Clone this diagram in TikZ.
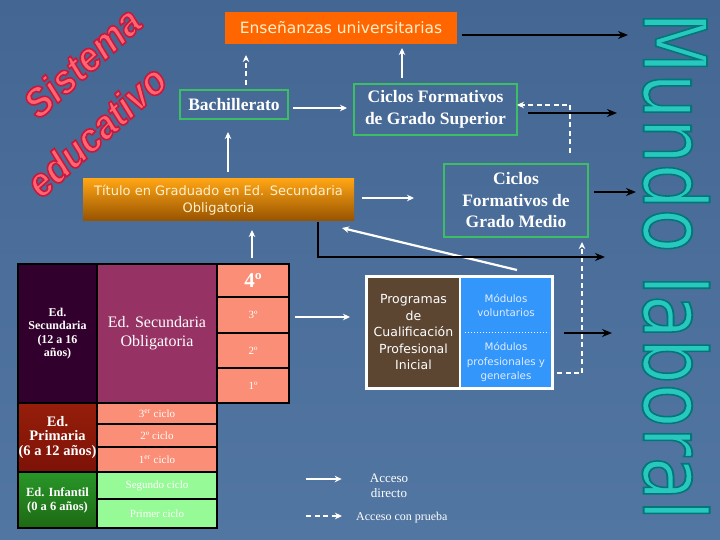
\documentclass[tikz,border=0pt]{standalone}
\usepackage{fontspec}
\setmainfont{Liberation Serif}
\newfontfamily\tahoma{DejaVu Sans}
\newfontfamily\arialf{Liberation Sans}
\usetikzlibrary{calc,arrows.meta,positioning}
% outlined text: stroke colour, stroke width, text
\newcommand\outl[3]{\special{pdf:literal direct #1 RG #2 w 2 Tr}#3\special{pdf:literal direct 0 Tr}}

\definecolor{bgtop}{RGB}{68,102,146}
\definecolor{bgbot}{RGB}{82,118,162}
\definecolor{ensorange}{RGB}{255,102,0}
\definecolor{cream}{RGB}{255,240,205}
\definecolor{boxgreen}{RGB}{60,190,100}
\definecolor{tittop}{RGB}{255,165,20}
\definecolor{titbot}{RGB}{150,82,0}
\definecolor{purpdark}{RGB}{50,0,45}
\definecolor{purplight}{RGB}{105,22,98}
\definecolor{secmag}{RGB}{150,50,100}
\definecolor{salmon}{RGB}{250,142,118}
\definecolor{pritop}{RGB}{150,30,10}
\definecolor{primid}{RGB}{250,62,20}
\definecolor{pribot}{RGB}{125,18,8}
\definecolor{inftop}{RGB}{40,150,40}
\definecolor{infmid}{RGB}{100,230,60}
\definecolor{infbot}{RGB}{30,105,20}
\definecolor{lightgreen}{RGB}{150,250,150}
\definecolor{wood}{RGB}{92,70,50}
\definecolor{modblue}{RGB}{50,150,250}
\definecolor{modtext}{RGB}{225,235,255}
\definecolor{sisfill}{RGB}{255,100,112}
\definecolor{mlfill}{RGB}{40,200,190}

\begin{document}
\begin{tikzpicture}[x=1pt,y=1pt,
	greenbox/.style={draw=boxgreen, line width=1.3pt, text=white, align=center,
		font=\bfseries\fontsize{17.5}{21.5}\selectfont, inner sep=0pt, outer sep=0pt},
	cell/.style={draw=black, line width=1.6pt, inner sep=0pt, outer sep=0pt,
		anchor=north west, align=center, text=white},
	smallcell/.style={cell, fill=salmon, font=\fontsize{11}{11}\selectfont},
	wline/.style={draw=white, line width=2.2pt, -{Stealth[length=7pt,width=6.5pt]}},
	wdash/.style={wline, dash pattern=on 5pt off 3.5pt},
	bline/.style={draw=black, line width=2pt, -{Stealth[length=10pt,width=8pt]}},
	wordart/.style={rotate=42, text=sisfill, inner sep=0pt, font=\arialf\bfseries\itshape\fontsize{37}{37}\selectfont}]
			%%%%% START %%%%%
			
			\fill[top color=bgtop, bottom color=bgbot] (0,0) rectangle (720,-540);
			\useasboundingbox (0,0) rectangle (720,-540);
			
			\node[wordart] (sis) at (82,-62) {\scalebox{1}[1.1]{\outl{0.78 0.1 0.24}{1.5}{Sistema}}};
			\node[wordart] (edu) at (96,-131) {\scalebox{1}[1.1]{\outl{0.78 0.1 0.24}{1.5}{educativo}}};
			
			\node[rotate=-90, text=mlfill, inner sep=0pt, font=\tahoma\fontsize{60}{60}\selectfont] (mundo) at (676,-266) {\resizebox{508pt}{66pt}{\outl{0 0.47 0.47}{1.3}{Mundo laboral}}};
			
			% upper part
			\node[fill=ensorange, text=cream, font=\tahoma\fontsize{15.5}{18}\selectfont, minimum width=232, minimum height=32, inner sep=0pt, outer sep=0pt] (ens) at (341,-28) {Enseñanzas universitarias};
			\node[greenbox, minimum width=108, minimum height=29] (bach) at (234,-104.5) {Bachillerato};
			\node[greenbox, minimum width=163, minimum height=51] (sup) at (435.5,-109.5) {Ciclos Formativos\\de Grado Superior};
			\node[top color=tittop, bottom color=titbot, text=cream, font=\tahoma\fontsize{13}{17}\selectfont, align=center, minimum width=271, minimum height=42, inner sep=0pt, outer sep=0pt] (tit) at (218.5,-200) {Título en Graduado en Ed. Secundaria\\Obligatoria};
			\node[greenbox, minimum width=144, minimum height=73] (med) at (516,-200.5) {Ciclos\\Formativos de\\Grado Medio};
			
			% table
			\node[cell, minimum width=79, minimum height=139, top color=purpdark, middle color=purplight, bottom color=purpdark, font=\bfseries\fontsize{12}{13.5}\selectfont] (secL) at (18,-264) {Ed.\\Secundaria\\(12 a 16\\años)};
			\node[cell, minimum width=120, minimum height=139, fill=secmag, font=\fontsize{16}{19}\selectfont] (secM) at (97,-264) {Ed. Secundaria\\Obligatoria};
			\node[cell, minimum width=72, minimum height=33, fill=salmon, font=\bfseries\fontsize{21}{21}\selectfont] (c4) at (217,-264) {4º};
			\node[smallcell, minimum width=72, minimum height=36] (c3) at (217,-297) {3º};
			\node[smallcell, minimum width=72, minimum height=35] (c2) at (217,-333) {2º};
			\node[smallcell, minimum width=72, minimum height=35] (c1) at (217,-368) {1º};
			
			\node[cell, minimum width=79, minimum height=69, top color=pritop, middle color=primid, bottom color=pribot, font=\bfseries\fontsize{14.5}{14.5}\selectfont] (priL) at (18,-403) {Ed.\\Primaria\\(6 a 12 años)};
			\node[smallcell, minimum width=120, minimum height=21] (p3) at (97,-403) {3\textsuperscript{er} ciclo};
			\node[smallcell, minimum width=120, minimum height=23] (p2) at (97,-424) {2º ciclo};
			\node[smallcell, minimum width=120, minimum height=25] (p1) at (97,-447) {1\textsuperscript{er} ciclo};
			
			\node[cell, minimum width=79, minimum height=56, top color=inftop, middle color=infmid, bottom color=infbot, font=\bfseries\fontsize{12.5}{14}\selectfont] (infL) at (18,-472) {Ed. Infantil\\(0 a 6 años)};
			\node[smallcell, fill=lightgreen, minimum width=120, minimum height=27] (i2) at (97,-472) {Segundo ciclo};
			\node[smallcell, fill=lightgreen, minimum width=120, minimum height=29] (i1) at (97,-499) {Primer ciclo};
			
			% PCPI
			\fill[white] (365,-275) rectangle (554,-390);
			\node[fill=wood, minimum width=91, minimum height=109, inner sep=0pt, outer sep=0pt, text=white, font=\tahoma\fontsize{12.5}{16.5}\selectfont, align=center] (prog) at (413.5,-332.5) {Programas\\de\\Cualificación\\Profesional\\Inicial};
			\node[fill=modblue, minimum width=90, minimum height=109, inner sep=0pt, outer sep=0pt] (mod) at (506,-332.5) {};
			\node[text=modtext, font=\tahoma\fontsize{10.3}{14}\selectfont, align=center] (modA) at (506,-305) {Módulos\\voluntarios};
			\node[text=modtext, font=\tahoma\fontsize{10.3}{14.5}\selectfont, align=center] (modB) at (506,-362) {Módulos\\profesionales y\\generales};
			\draw[white, dotted, line width=1pt] ($(mod.west)+(4,0)$) -- ($(mod.east)+(-2,0)$);
			
			% legend
			\node[text=white, font=\fontsize{13}{15}\selectfont, align=center, inner sep=0pt] (legA) at (389,-486) {Acceso\\directo};
			\node[text=white, font=\fontsize{12}{14}\selectfont, anchor=west, inner sep=0pt] (legB) at (356,-518) {Acceso con prueba};
			\draw[wline] ($(legA.west)+(-64,7)$) -- ($(legA.west)+(-28,7)$);
			\draw[wdash] ($(legB.west)+(-50,2)$) -- ($(legB.west)+(-14,2)$);
			
			% white connectors
			\draw[wline] ($(tit.north)+(9.5,7)$) -- ($(bach.south)+(-6,-13)$);
			\draw[wdash] ($(bach.north)+(12,5)$) -- ($(ens.south -| bach.north)+(12,-11)$);
			\draw[wline] ($(sup.north)+(-33.5,6)$) -- ($(ens.south -| sup.north)+(-33.5,-4)$);
			\draw[wline] ($(bach.east)+(5,-3.5)$) -- ($(sup.west)+(-7,1.5)$);
			\draw[wdash] ($(med.north)+(54,11)$) |- ($(sup.east)+(0,4.5)$);
			\draw[wline] ($(tit.east)+(8,2)$) -- ($(med.west)+(-30,2.5)$);
			\draw[wline] ($(c4.north)+(-1,6)$) -- ($(tit.south -| c4.north)+(-1,-9)$);
			\draw[wline] ($(mod.north)+(11,8)$) -- ($(tit.south east)+(-12,-7)$);
			\draw[wline] ($(c3.east)+(6,-2)$) -- ($(prog.west |- c3.east)+(-18,-2)$);
			\draw[wdash] ($(mod.south east)+(6,14)$) -| ($(med.south)+(66,-5)$);
			
			% to Mundo laboral
			\coordinate (ml1) at (628,-35);
			\coordinate (ml2) at (617,-113);
			\coordinate (ml3) at (636,-192);
			\coordinate (ml4) at (605,-257);
			\coordinate (ml5) at (612,-333);
			\draw[bline] ($(ens.east)+(5,-7)$) -- (ml1);
			\draw[bline] ($(sup.east)+(11,-3.5)$) -- (ml2);
			\draw[bline] ($(med.east)+(6,8.5)$) -- (ml3);
			\draw[bline] ($(tit.south)+(99.5,-1)$) |- (ml4);
			\draw[bline] ($(mod.east)+(13,-0.5)$) -- (ml5);
			
			%%%%% END %%%%%
\end{tikzpicture}
\end{document}
